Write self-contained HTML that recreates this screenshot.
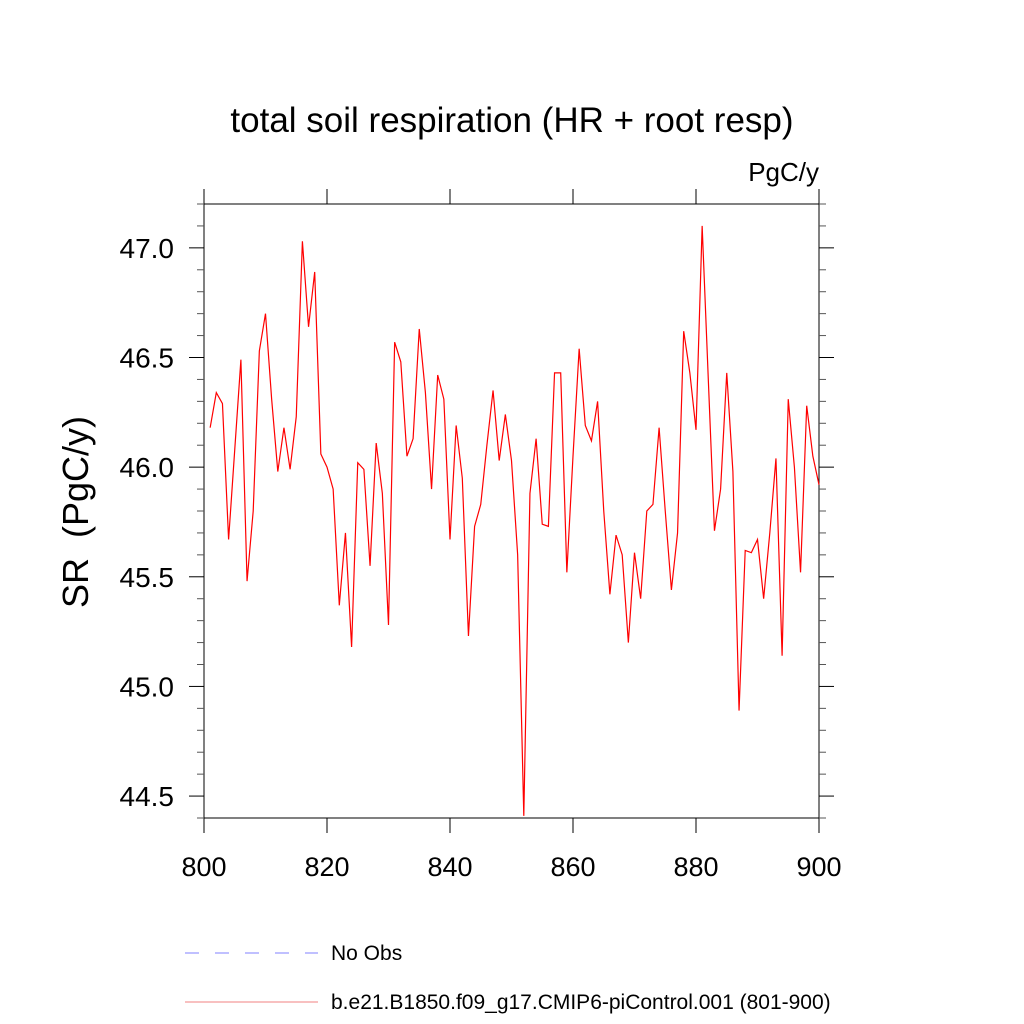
<!DOCTYPE html>
<html><head><meta charset="utf-8"><style>
html,body{margin:0;padding:0;background:#fff;}
svg{display:block;font-family:"Liberation Sans",sans-serif;}
</style></head><body>
<svg id="chart" width="1024" height="1024" viewBox="0 0 1024 1024">
<text x="512" y="132" text-anchor="middle" font-size="35" fill="#000">total soil respiration (HR + root resp)</text>
<text x="819" y="181" text-anchor="end" font-size="26" fill="#000">PgC/y</text>
<text transform="translate(88,512) rotate(-90)" text-anchor="middle" font-size="36" fill="#000" xml:space="preserve">SR  (PgC/y)</text>
<g id="axes"></g>
<polyline id="series" fill="none" stroke="#ff0000" stroke-width="1.2"></polyline>
<g>
<line x1="185" y1="953" x2="318" y2="953" stroke="#8080ff" stroke-width="1" stroke-dasharray="14,16"/>
<text x="331" y="960" font-size="21" fill="#000">No Obs</text>
<line x1="185" y1="1002" x2="318" y2="1002" stroke="#f08080" stroke-width="1"/>
<text x="331" y="1009" font-size="21" fill="#000">b.e21.B1850.f09_g17.CMIP6-piControl.001 (801-900)</text>
</g>
</svg>
<script>
const years = [];
for (let y = 801; y <= 900; y++) years.push(y);
const values = [46.18,46.34,46.29,45.67,46.08,46.49,45.48,45.80,46.53,46.70,
46.31,45.98,46.18,45.99,46.23,47.03,46.64,46.89,46.06,46.00,
45.90,45.37,45.70,45.18,46.02,45.99,45.55,46.11,45.88,45.28,
46.57,46.48,46.05,46.13,46.63,46.34,45.90,46.42,46.31,45.67,
46.19,45.95,45.23,45.73,45.83,46.10,46.35,46.03,46.24,46.03,
45.60,44.41,45.88,46.13,45.74,45.73,46.43,46.43,45.52,46.05,
46.54,46.19,46.12,46.30,45.80,45.42,45.69,45.60,45.20,45.61,
45.40,45.80,45.83,46.18,45.80,45.44,45.70,46.62,46.43,46.17,
47.10,46.40,45.71,45.90,46.43,45.98,44.89,45.62,45.61,45.67,
45.40,45.70,46.04,45.14,46.31,46.00,45.52,46.28,46.05,45.92];
const xTicks = [800,820,840,860,880,900];
const yTicks = [44.5,45.0,45.5,46.0,46.5,47.0];
const yTickLabels = ["44.5","45.0","45.5","46.0","46.5","47.0"];

const L=204,R=819,T=204,B=818, xMin=800,xMax=900,yMin=44.4,yMax=47.2;
const sx=v=>L+(v-xMin)/(xMax-xMin)*(R-L);
const sy=v=>B-(v-yMin)/(yMax-yMin)*(B-T);
const NS="http://www.w3.org/2000/svg";
const axes=document.getElementById('axes');
function mk(tag,attrs){const e=document.createElementNS(NS,tag);for(const k in attrs)e.setAttribute(k,attrs[k]);axes.appendChild(e);return e;}

const frame=mk('rect',{x:L,y:T,width:R-L,height:B-T,fill:'none',stroke:'#000','stroke-width':1});



xTicks.forEach(v=>{
  const x=sx(v);
  const t1=mk('line',{x1:x,y1:B,x2:x,y2:B+15,stroke:'#000','stroke-width':1});
  
  
  const t2=mk('line',{x1:x,y1:T,x2:x,y2:T-15,stroke:'#000','stroke-width':1});
  
  
  const lb=mk('text',{x:x,y:876,'text-anchor':'middle','font-size':27,fill:'#000'});
  lb.textContent=String(v);
  
  
});

for(let i=0;i<=28;i++){
  const v=yMin+i*0.1; const y=sy(v);
  const major=yTicks.some(t=>Math.abs(t-v)<1e-6);
  const len=major?15:7;
  const a=mk('line',{x1:L-len,y1:y,x2:L,y2:y,stroke:major?'#000':'#555','stroke-width':1});
  
  
  const b=mk('line',{x1:R,y1:y,x2:R+len,y2:y,stroke:major?'#000':'#555','stroke-width':1});
  
  
}
yTicks.forEach((v,i)=>{
  const lb=mk('text',{x:174,y:sy(v)+10,'text-anchor':'end','font-size':28,fill:'#000'});
  lb.textContent=yTickLabels[i];
  
  
});

document.getElementById('series').setAttribute('points',
  years.map((yr,i)=>sx(yr).toFixed(2)+','+sy(values[i]).toFixed(2)).join(' '));
</script>
</body></html>
